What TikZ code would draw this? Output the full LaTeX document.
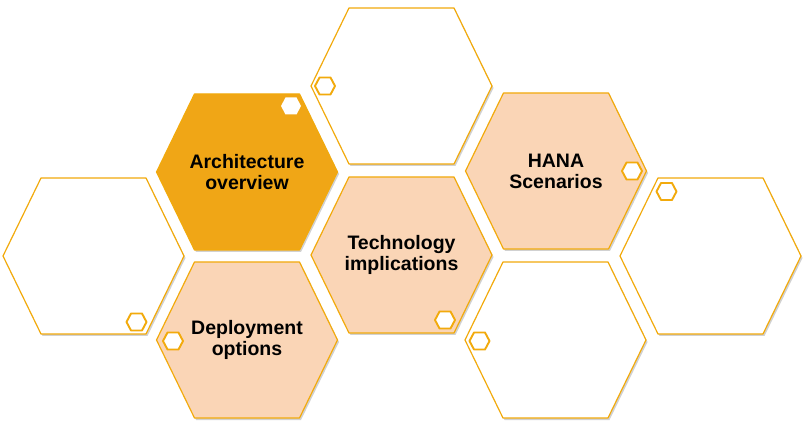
\documentclass[tikz,border=0pt]{standalone}
\usepackage{fontspec}
\setmainfont{Liberation Sans}
\usetikzlibrary{shadows}

\definecolor{hexorange}{HTML}{F0A616}
\definecolor{hexline}{HTML}{F2AA0C}
\definecolor{hexpeach}{HTML}{FAD5B6}

\tikzset{
  bighex/.style={draw=hexline, line width=1.2pt, line join=round,
    drop shadow={shadow xshift=1.5pt, shadow yshift=-2pt, opacity=0.3, fill=black!60}},
  smallhex/.style={draw=hexline, line width=1.9pt, fill=white, line join=round},
  hexlabel/.style={font=\bfseries\fontsize{19.5}{21}\selectfont, align=center, text=black},
}

% big and small hexagons around a named centre
\newcommand{\bighexagon}[2]{%
  \draw[bighex, #2] (#1) ++(-90.5,0) -- ++(38,-78) -- ++(105,0) -- ++(38,78)
    -- ++(-38,78) -- ++(-105,0) -- cycle;}
\newcommand{\smallhexagon}[2]{%
  \draw[smallhex, #2] (#1) ++(-10,0) -- ++(4.5,-8.5) -- ++(11,0) -- ++(4.5,8.5)
    -- ++(-4.5,8.5) -- ++(-11,0) -- cycle;}

\begin{document}
\begin{tikzpicture}[x=1pt, y=-1pt]
	\useasboundingbox (0,0) rectangle (809,446);
	
	% centres of the honeycomb
	\coordinate (top) at (401.5,86);
	\coordinate (arch) at (247,172);
	\coordinate (hana) at (556,171);
	\coordinate (left) at (93.5,256);
	\coordinate (tech) at (401.5,255);
	\coordinate (right) at (710.5,256);
	\coordinate (deploy) at (247,340);
	\coordinate (botright) at (555.5,340);
	
	\bighexagon{top}{fill=white}
	\bighexagon{arch}{fill=hexorange}
	\bighexagon{hana}{fill=hexpeach}
	\bighexagon{left}{fill=white}
	\bighexagon{tech}{fill=hexpeach}
	\bighexagon{right}{fill=white}
	\bighexagon{deploy}{fill=hexpeach}
	\bighexagon{botright}{fill=white}
	
	% small hexagons
	\coordinate (archdot) at (291,106);
	\coordinate (topdot) at (325,86);
	\coordinate (leftdot) at (136.5,322);
	\coordinate (deploydot) at (173,341);
	\coordinate (techdot) at (445,320);
	\coordinate (botrightdot) at (479.5,341);
	\coordinate (hanadot) at (632,171);
	\coordinate (rightdot) at (666.5,191.5);
	
	\smallhexagon{archdot}{draw=none}
	\foreach \d in {topdot, leftdot, deploydot, techdot, botrightdot, hanadot, rightdot}
		\smallhexagon{\d}{};
	
	\node[hexlabel] (archlabel) at (arch) {Architecture\\overview};
	\node[hexlabel] (hanalabel) at (hana) {HANA\\Scenarios};
	\node[hexlabel] (techlabel) at (tech) {Technology\\implications};
	\node[hexlabel] (deploylabel) at (deploy) {Deployment\\options};
\end{tikzpicture}
\end{document}
